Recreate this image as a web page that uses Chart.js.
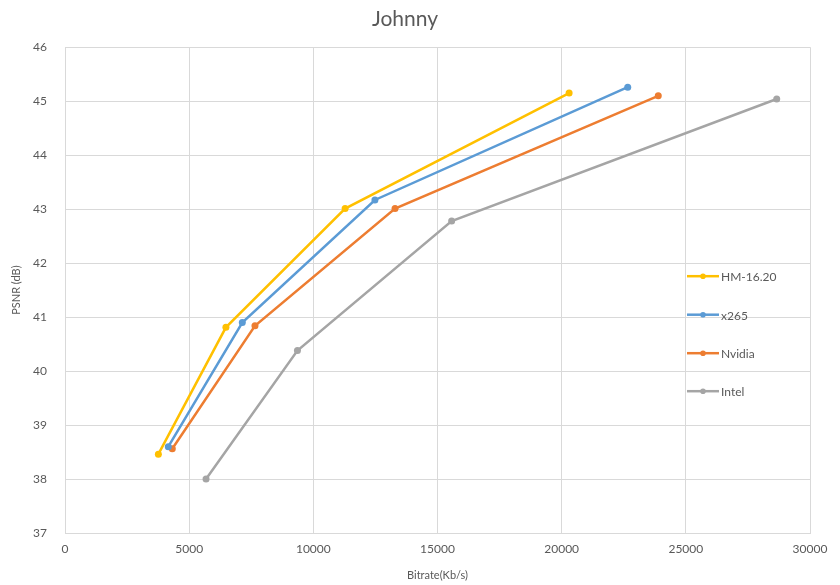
<!DOCTYPE html>
<html>
<head>
<meta charset="utf-8">
<script src="https://cdn.jsdelivr.net/npm/chart.js@4.4.1/dist/chart.umd.min.js"></script>
<style>
  html, body { margin: 0; padding: 0; background: #ffffff; }
  #wrap { width: 840px; height: 585px; }
</style>
</head>
<body>
<div id="wrap"><canvas id="rd" width="840" height="585"></canvas></div>
<script>
// Rate-distortion points per encoder: bitrate (Kb/s) and PSNR (dB)
const seriesNames = ['HM-16.20', 'x265', 'Nvidia', 'Intel'];
const hmRate     = [3760, 6480, 11280, 20300];
const hmPsnr     = [38.46, 40.81, 43.01, 45.15];
const x265Rate   = [4160, 7140, 12480, 22660];
const x265Psnr   = [38.60, 40.90, 43.17, 45.26];
const nvidiaRate = [4320, 7650, 13290, 23890];
const nvidiaPsnr = [38.56, 40.84, 43.01, 45.10];
const intelRate  = [5680, 9360, 15570, 28660];
const intelPsnr  = [38.00, 40.38, 42.78, 45.04];
const xTicks = [0, 5000, 10000, 15000, 20000, 25000, 30000];
const yTicks = [37, 38, 39, 40, 41, 42, 43, 44, 45, 46];

const colors = ['#FFC000', '#5B9BD5', '#ED7D31', '#A5A5A5'];
const rates = [hmRate, x265Rate, nvidiaRate, intelRate];
const psnrs = [hmPsnr, x265Psnr, nvidiaPsnr, intelPsnr];
const FONT = 'Lato, "Open Sans", "Liberation Sans", sans-serif';
const TEXT = '#595959';

const datasets = seriesNames.map((name, i) => ({
  label: name,
  data: rates[i].map((r, j) => ({ x: r, y: psnrs[i][j] })),
  borderColor: colors[i],
  backgroundColor: colors[i],
  borderWidth: 2.5,
  pointRadius: 3.5,
  pointHoverRadius: 3.5,
  pointBorderWidth: 0,
  tension: 0,
  showLine: true,
  fill: false
}));

// Legend drawn inside the plot area, stacked on the right side
const innerLegend = {
  id: 'innerLegend',
  afterDraw(chart) {
    const { ctx, chartArea } = chart;
    ctx.save();
    ctx.font = '12px ' + FONT;
    ctx.textBaseline = 'middle';
    ctx.textAlign = 'left';
    const offsets = [229, 267.5, 306, 344];
    chart.data.datasets.forEach((ds, i) => {
      const y = chartArea.top + offsets[i];
      const x0 = chartArea.right - 123;
      const x1 = chartArea.right - 91;
      ctx.strokeStyle = ds.borderColor;
      ctx.lineWidth = 2.5;
      ctx.beginPath();
      ctx.moveTo(x0, y);
      ctx.lineTo(x1, y);
      ctx.stroke();
      ctx.fillStyle = ds.borderColor;
      ctx.beginPath();
      ctx.arc((x0 + x1) / 2, y, 2.8, 0, Math.PI * 2);
      ctx.fill();
      ctx.fillStyle = TEXT;
      ctx.fillText(ds.label, x1 + 2, y + 1);
    });
    ctx.restore();
  }
};

new Chart(document.getElementById('rd'), {
  type: 'scatter',
  data: { datasets },
  plugins: [innerLegend],
  options: {
    responsive: false,
    animation: false,
    layout: { padding: { top: 0, right: 30, bottom: 0, left: 0 } },
    plugins: {
      legend: { display: false },
      tooltip: { enabled: false },
      title: {
        display: true,
        text: 'Johnny',
        color: TEXT,
        font: { family: FONT, size: 21, weight: 'normal' },
        padding: { top: 7, bottom: 15 }
      }
    },
    scales: {
      x: {
        type: 'linear',
        min: xTicks[0],
        max: xTicks[xTicks.length - 1],
        afterFit: s => { s.height = 52; },
        afterBuildTicks: s => { s.ticks = xTicks.map(v => ({ value: v })); },
        ticks: {
          color: TEXT,
          font: { family: FONT, size: 12 },
          padding: 9,
          maxRotation: 0,
          callback: v => String(v)
        },
        grid: { color: '#D9D9D9', lineWidth: 1, drawTicks: false },
        border: { color: '#D9D9D9' },
        title: {
          display: true,
          text: 'Bitrate(Kb/s)',
          color: TEXT,
          font: { family: FONT, size: 11 },
          padding: { top: 0, bottom: 3 }
        }
      },
      y: {
        type: 'linear',
        min: yTicks[0],
        max: yTicks[yTicks.length - 1],
        afterFit: s => { s.width = 65; },
        afterBuildTicks: s => { s.ticks = yTicks.map(v => ({ value: v })); },
        ticks: {
          color: TEXT,
          font: { family: FONT, size: 12 },
          padding: 18,
          callback: v => String(v)
        },
        grid: { color: '#D9D9D9', lineWidth: 1, drawTicks: false },
        border: { color: '#D9D9D9' },
        title: {
          display: true,
          text: 'PSNR (dB)',
          color: TEXT,
          font: { family: FONT, size: 11 },
          padding: { top: 10, bottom: 0 }
        }
      }
    }
  }
});
</script>
</body>
</html>
